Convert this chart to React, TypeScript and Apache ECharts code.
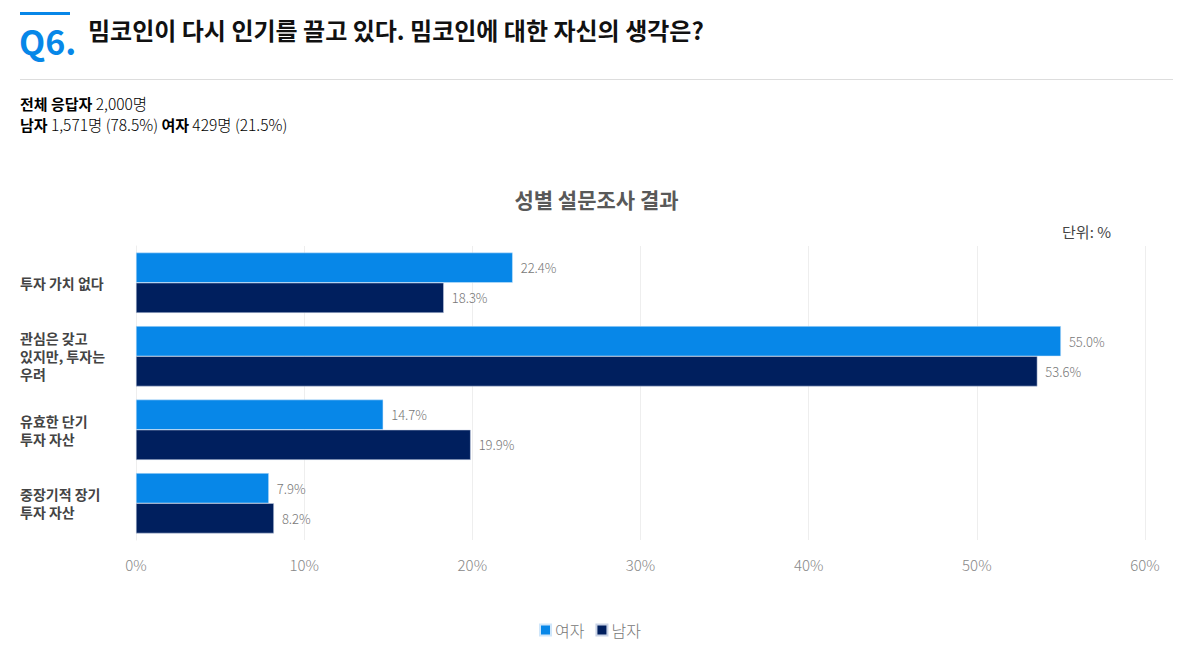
import React, { useEffect, useRef } from "react";
import * as echarts from "echarts";

const categories = ["투자 가치 없다", "관심은 갖고\n있지만, 투자는\n우려", "유효한 단기\n투자 자산", "중장기적 장기\n투자 자산"];
const femaleValues = [22.4, 55.0, 14.7, 7.9];
const maleValues = [18.3, 53.6, 19.9, 8.2];
const seriesNames = ["여자", "남자"];
const xTicks = [0, 10, 20, 30, 40, 50, 60];

const FONT = "'Noto Sans CJK KR', 'Noto Sans', sans-serif";

export default function App() {
  const ref = useRef<HTMLDivElement>(null);
  useEffect(() => {
    document.body.style.margin = "0";
    const chart = echarts.init(ref.current!, null, { renderer: "svg" });
    const valueLabel = {
      show: true,
      position: "right",
      distance: 8,
      formatter: (p: any) => p.value.toFixed(1) + "%",
      color: "#777",
      fontSize: 13,
      fontWeight: 300,
      fontFamily: FONT,
    };
    const subRich = {
      b: { fontWeight: "bold", fontSize: 15, color: "#111", fontFamily: FONT },
      n: { fontSize: 15.5, fontWeight: 300, color: "#333", fontFamily: FONT },
    };
    chart.setOption({
      animation: false,
      textStyle: { fontFamily: FONT },
      title: {
        text: "성별 설문조사 결과",
        left: "center",
        top: 183,
        textStyle: { fontSize: 21, fontWeight: "bold", color: "#595959", fontFamily: FONT },
      },
      legend: {
        top: 617,
        left: 534,
        itemWidth: 11,
        itemHeight: 11,
        itemGap: 11,
        icon: "rect",
        textStyle: { fontSize: 16, color: "#777", fontWeight: 300, fontFamily: FONT, padding: [0, 0, 0, -1] },
        data: seriesNames,
      },
      grid: { left: 136, right: 48, top: 246, bottom: 114, containLabel: false, outerBoundsMode: "none" },
      xAxis: {
        type: "value",
        min: xTicks[0],
        max: xTicks[xTicks.length - 1],
        interval: 10,
        axisLabel: { formatter: "{value}%", color: "#888", fontSize: 15, fontWeight: 300, margin: 17, fontFamily: FONT },
        splitLine: { show: true, lineStyle: { color: "#eeeeee" } },
        axisLine: { show: false },
        axisTick: { show: false },
      },
      yAxis: {
        type: "category",
        inverse: true,
        data: categories,
        axisLine: { show: true, lineStyle: { color: "#eeeeee" } },
        axisTick: { show: false },
        axisLabel: {
          align: "left",
          margin: 116,
          color: "#444",
          fontSize: 14,
          fontWeight: "bold",
          lineHeight: 18,
          fontFamily: FONT,
        },
      },
      series: [
        {
          name: seriesNames[0],
          type: "bar",
          data: femaleValues,
          barGap: "0%",
          barCategoryGap: "18%",
          itemStyle: { color: "#0787e8", borderColor: "#cfe6fa", borderWidth: 0.5 },
          label: valueLabel,
        },
        {
          name: seriesNames[1],
          type: "bar",
          data: maleValues,
          itemStyle: { color: "#001f5e", borderColor: "#c9d3e6", borderWidth: 0.5 },
          label: valueLabel,
        },
      ],
      graphic: [
        { type: "rect", shape: { x: 20, y: 12, width: 50, height: 3 }, style: { fill: "#0787e8" } },
        { type: "text", x: 19, y: 23, style: { text: "Q6.", fill: "#0787e8", font: `bold 34px ${FONT}` } },
        { type: "text", x: 88, y: 17, style: { text: "밈코인이 다시 인기를 끌고 있다. 밈코인에 대한 자신의 생각은?", fill: "#111", font: `bold 24px ${FONT}` } },
        { type: "rect", shape: { x: 20, y: 79, width: 1153, height: 1 }, style: { fill: "#dddddd" } },
        { type: "text", x: 20, y: 103, style: { text: "{b|전체 응답자} {n|2,000명}", rich: subRich, verticalAlign: "middle" } },
        { type: "text", x: 20, y: 124, style: { text: "{b|남자} {n|1,571명 (78.5%)} {b|여자} {n|429명 (21.5%)}", rich: subRich, verticalAlign: "middle" } },
        { type: "text", x: 1111, y: 224, style: { text: "단위: %", fill: "#444", font: `15px ${FONT}`, align: "right" } },
      ],
    });
    return () => chart.dispose();
  }, []);
  return <div ref={ref} style={{ position: "absolute", left: 0, top: 0, width: 1193, height: 654 }} />;
}
